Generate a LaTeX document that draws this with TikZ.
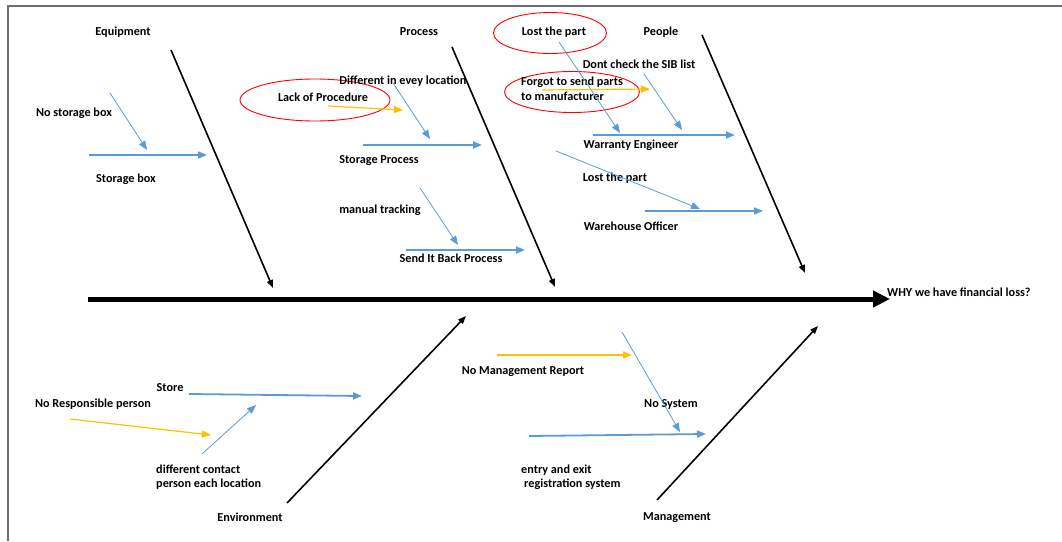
\documentclass[tikz,border=0pt]{standalone}
\usepackage{fontspec}
\setmainfont{Carlito}
\usetikzlibrary{arrows.meta,shapes.geometric}
\definecolor{fbblue}{HTML}{5B9BD5}
\definecolor{fbyel}{HTML}{FFC000}
\definecolor{fbred}{HTML}{FF0000}
\definecolor{fbgray}{HTML}{6E6E6E}
\tikzset{
  lbl/.style={font=\fontsize{12.2}{14.5}\selectfont\bfseries, inner sep=0pt, text=black},
  catbone/.style={draw=black, line width=1.6pt, -{Triangle[length=8pt,width=6pt]}},
  subbone/.style={draw=fbblue, line width=1.8pt, -{Triangle[length=9pt,width=7pt]}},
  thinbone/.style={draw=fbblue, line width=0.8pt, -{Triangle[length=9pt,width=7pt]}},
  yelbone/.style={draw=fbyel, line width=1.2pt, -{Triangle[length=9pt,width=7pt]}},
  redring/.style={draw=fbred, line width=0.9pt, ellipse}
}
\begin{document}
\begin{tikzpicture}[x=1pt,y=-1pt]
\useasboundingbox (0,0) rectangle (1062,541);
% frame
\draw[fbgray, line width=1.6pt] (8,541) -- (8,6) -- (1062,6);

% spine
\node[lbl, anchor=west] (effect) at (887,292) {WHY we have financial loss?};
\coordinate (spS) at (88,299);
\coordinate (spE) at (890,299);
\draw[line width=5pt, -{Triangle[length=17pt,width=16pt]}] (spS) -- (spE);

% categories
\node[lbl] (equip) at (123,32) {Equipment};
\node[lbl] (proc) at (419,32) {Process};
\node[lbl] (people) at (661,32) {People};
\node[lbl] (env) at (250,517) {Environment};
\node[lbl] (mgmt) at (677,518) {Management};

\coordinate (eqA) at (171,50);  \coordinate (eqB) at (273,288);
\coordinate (prA) at (452,47);  \coordinate (prB) at (555,287);
\coordinate (peA) at (702,35);  \coordinate (peB) at (805,273);
\coordinate (enA) at (287,503); \coordinate (enB) at (466,316);
\coordinate (mgA) at (657,500); \coordinate (mgB) at (818,326);
\draw[catbone] (eqA) -- (eqB);
\draw[catbone] (prA) -- (prB);
\draw[catbone] (peA) -- (peB);
\draw[catbone] (enA) -- (enB);
\draw[catbone] (mgA) -- (mgB);

% Equipment
\node[lbl] (nsb) at (74,113) {No storage box};
\node[lbl] (sbox) at (126,179) {Storage box};
\coordinate (a1) at (110,93);  \coordinate (a2) at (147,150);
\coordinate (b1) at (89,155);  \coordinate (b2) at (207,155);
\draw[thinbone] (a1) -- (a2);
\draw[subbone] (b1) -- (b2);

% Process
\node[redring, minimum width=150pt, minimum height=42pt] (lopRing) at (315,100) {};
\node[lbl] (lop) at (323,97) {Lack of Procedure};
\node[lbl] (diff) at (403,81) {Different in evey location};
\node[lbl] (sproc) at (379,161) {Storage Process};
\node[lbl] (manual) at (380,210) {manual tracking};
\node[lbl] (sendback) at (451,258) {Send It Back Process};
\coordinate (c1) at (328,106); \coordinate (c2) at (403,110);
\coordinate (d1) at (393,83);  \coordinate (d2) at (430,139);
\coordinate (e1) at (363,145); \coordinate (e2) at (482,145);
\coordinate (f1) at (420,188); \coordinate (f2) at (458,245);
\coordinate (g1) at (406,250); \coordinate (g2) at (525,250);
\draw[yelbone] (c1) -- (c2);
\draw[thinbone] (d1) -- (d2);
\draw[subbone] (e1) -- (e2);
\draw[thinbone] (f1) -- (f2);
\draw[subbone] (g1) -- (g2);

% People
\node[redring, minimum width=113pt, minimum height=41pt] (lostRing) at (550,33) {};
\node[lbl] (lost1) at (554,32) {Lost the part};
\node[redring, minimum width=135pt, minimum height=41pt] (forgotRing) at (572,92) {};
\node[lbl, anchor=west, align=left] (forgot) at (521,89) {Forgot to send parts\\to manufacturer};
\node[lbl] (sib) at (639,64) {Dont check the SIB list};
\node[lbl] (warr) at (631,145) {Warranty Engineer};
\node[lbl] (lost2) at (615,178) {Lost the part};
\node[lbl] (whouse) at (631,226) {Warehouse Officer};
\coordinate (h1) at (559,42);  \coordinate (h2) at (620,133);
\coordinate (i1) at (644,74);  \coordinate (i2) at (682,130);
\coordinate (j1) at (542,90);  \coordinate (j2) at (650,89);
\coordinate (k1) at (593,135); \coordinate (k2) at (735,135);
\coordinate (l1) at (556,151); \coordinate (l2) at (700,209);
\coordinate (m1) at (645,211); \coordinate (m2) at (763,211);
\draw[thinbone] (h1) -- (h2);
\draw[thinbone] (i1) -- (i2);
\draw[yelbone] (j1) -- (j2);
\draw[subbone] (k1) -- (k2);
\draw[thinbone] (l1) -- (l2);
\draw[subbone] (m1) -- (m2);

% Environment
\node[lbl] (store) at (170,388) {Store};
\node[lbl] (noresp) at (93,404) {No Responsible person};
\node[lbl, anchor=west, align=left] (contact) at (156,477) {different contact\\person each location};
\coordinate (n1) at (189,394); \coordinate (n2) at (362,396);
\coordinate (o1) at (70,419);  \coordinate (o2) at (211,435);
\coordinate (p1) at (202,454); \coordinate (p2) at (256,405);
\draw[subbone] (n1) -- (n2);
\draw[yelbone] (o1) -- (o2);
\draw[thinbone] (p1) -- (p2);

% Management
\node[lbl] (nmr) at (523,372) {No Management Report};
\node[lbl] (nsys) at (671,404) {No System};
\node[lbl, anchor=west, align=left] (entry) at (521,477) {entry and exit\\\hspace*{3pt}registration system};
\coordinate (q1) at (497,355); \coordinate (q2) at (632,355);
\coordinate (r1) at (622,332); \coordinate (r2) at (680,432);
\coordinate (s1) at (529,436); \coordinate (s2) at (706,434);
\draw[yelbone] (q1) -- (q2);
\draw[thinbone] (r1) -- (r2);
\draw[subbone] (s1) -- (s2);
\end{tikzpicture}
\end{document}
